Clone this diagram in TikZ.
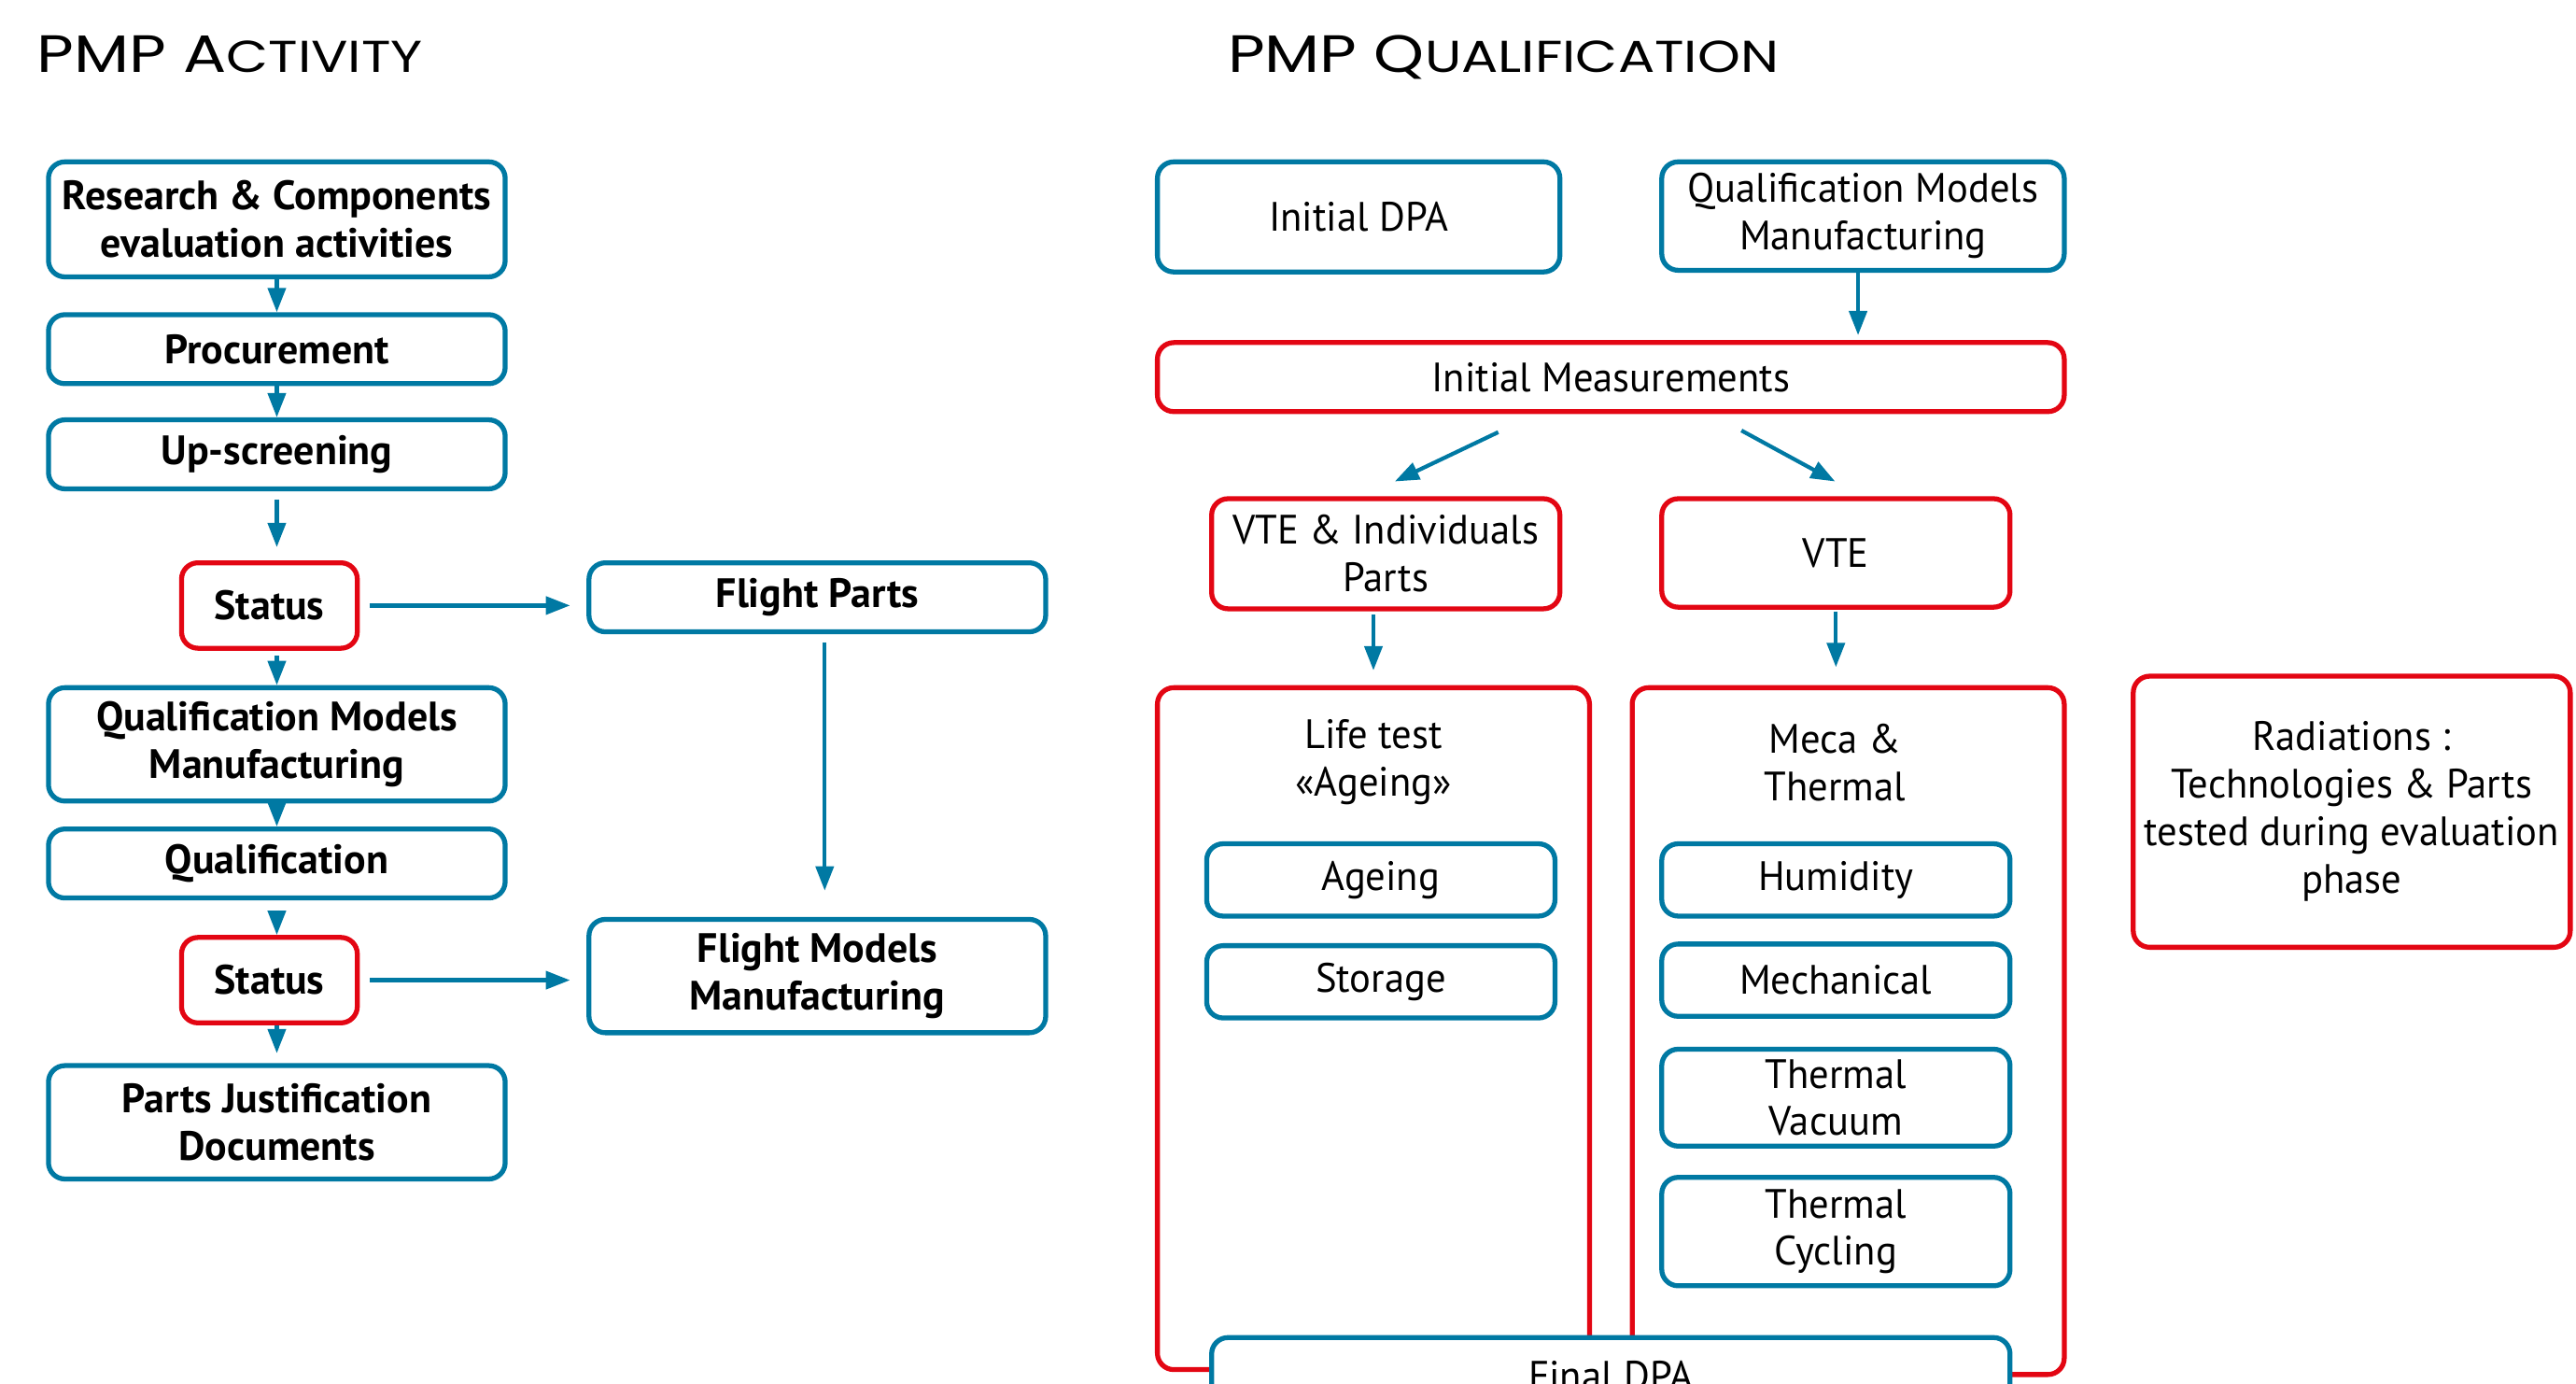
\documentclass[tikz,border=0pt]{standalone}
\usepackage{fontspec}
\setmainfont{PT Sans}
\newfontfamily\boxfont[FakeStretch=0.97]{PT Sans}
\newfontfamily\actfont{PT Sans}
\newfontfamily\headfont[FakeStretch=1.22]{Poppins}
\usetikzlibrary{arrows.meta}
\definecolor{pmpblue}{RGB}{0,121,163}
\definecolor{pmpred}{RGB}{227,6,19}
\newcommand{\px}{0.017596cm}
\newcommand{\pmpsc}[1]{{\fontsize{13.6}{15}\selectfont #1}}
\tikzset{
    sz/.style n args={2}{minimum width=#1*\px, minimum height=#2*\px},
    plain/.style={draw=pmpblue, line width=1.5pt, rounded corners=5pt, fill=white, align=center, inner sep=0pt, font=\boxfont\fontsize{12.5}{14.5}\selectfont},
    plainred/.style={plain, draw=pmpred},
    act/.style={plain, font=\actfont\bfseries\fontsize{12.5}{14.5}\selectfont},
    actred/.style={act, draw=pmpred},
    boxtext/.style={align=center, inner sep=0pt, font=\boxfont\fontsize{12.5}{14.5}\selectfont},
    flow/.style={-{Triangle[length=0.26cm,width=0.19cm]}, draw=pmpblue, line width=1.2pt},
    heading/.style={anchor=base west, inner sep=0pt, font=\headfont\fontsize{16}{18}\selectfont}
}

\begin{document}
\begin{tikzpicture}[x=0.017596cm, y=-0.017596cm]
    \useasboundingbox (0,0) rectangle (1568,842);
    \clip (0,0) rectangle (1568,842);

    % PMP activity
    \node[heading] (acttitle) at (22,44) {PMP A\pmpsc{CTIVITY}};
    \node[act, sz={278}{70}] (research) at (168.5,133.5) {Research \& Components\\evaluation activities};
    \node[act, sz={278}{42}] (procure) at (168.5,212.5) {Procurement};
    \node[act, sz={278}{42}] (upscreen) at (168.5,276.5) {Up-screening};
    \node[actred, sz={107}{52}] (status1) at (164,368.5) {Status};
    \node[act, sz={278}{69}] (qmm) at (168.5,453) {Qualification Models\\Manufacturing};
    \node[act, sz={278}{42}] (qualif) at (168.5,525.5) {Qualification};
    \node[actred, sz={107}{52}] (status2) at (164,596.5) {Status};
    \node[act, sz={278}{69}] (pjd) at (168.5,683) {Parts Justification\\Documents};
    \node[act, sz={278}{42}] (fparts) at (497.5,363.5) {Flight Parts};
    \node[act, sz={278}{69}] (fmm) at (497.5,594) {Flight Models\\Manufacturing};

    \draw[flow] (research) -- (procure);
    \draw[flow] (procure) -- (upscreen);
    \draw[flow, shorten <=5*\px, shorten >=8*\px] (upscreen.south) -- (upscreen.south |- status1.north);
    \draw[flow, shorten <=3*\px] (qmm.north |- status1.south) -- (qmm.north);
    \draw[flow] (qmm) -- (qualif);
    \draw[flow, shorten <=6*\px] (qualif.south) -- (qualif.south |- status2.north);
    \draw[flow, shorten >=6*\px] (pjd.north |- status2.south) -- (pjd.north);
    \draw[flow, shorten <=6*\px, shorten >=10*\px] (status1.east) -- (status1.east -| fparts.west);
    \draw[flow, shorten <=6*\px, shorten >=10*\px] (status2.east) -- (status2.east -| fmm.west);
    \draw[flow, shorten <=5*\px, shorten >=16*\px] ([xshift=4.5*\px]fparts.south) -- ([xshift=4.5*\px]fmm.north);

    % PMP qualification
    \node[heading] (qualtitle) at (747,44) {PMP Q\pmpsc{UALIFICATION}};
    \node[plain, sz={245}{67}] (idpa) at (827,132) {Initial DPA};
    \node[plain, sz={245}{66}] (qmm2) at (1134,131.5) {Qualification Models\\Manufacturing};
    \node[plainred, sz={552}{42}] (imeas) at (980.5,229.5) {Initial Measurements};
    \node[plainred, sz={212}{67}] (vteind) at (843.5,337) {VTE \& Individuals\\Parts};
    \node[plainred, sz={212}{66}] (vte) at (1117.5,336.5) {VTE};

    \node[plainred, sz={263}{415}] (lifebox) at (836,626) {};
    \node[plainred, sz={263}{418}] (mecabox) at (1125,627.5) {};
    \node[boxtext] (lifetitle) at (836,464) {Life test\\«Ageing»};
    \node[boxtext] (mecatitle) at (1117,464) {Meca \&\\Thermal};
    \node[plain, sz={212}{44}] (ageing) at (840.5,535.5) {Ageing};
    \node[plain, sz={212}{44}] (storage) at (840.5,597.5) {Storage};
    \node[plain, sz={212}{44}] (humid) at (1117.5,535.5) {Humidity};
    \node[plain, sz={212}{44}] (mecha) at (1117.5,596.5) {Mechanical};
    \node[plain, sz={212}{59}] (tvac) at (1117.5,668) {Thermal\\Vacuum};
    \node[plain, sz={212}{66}] (tcyc) at (1117.5,749.5) {Thermal\\Cycling};
    \node[plain, sz={486}{46}] (fdpa) at (980.5,837) {Final DPA};
    \node[plainred, sz={266}{165}] (radiat) at (1431.5,494) {Radiations :\\Technologies \& Parts\\tested during evaluation\\phase};

    \coordinate (splitL) at (912,263);
    \coordinate (splitR) at (1060,262);
    \coordinate (vteindin) at (849,293);
    \coordinate (vtein) at (1117,293);
    \draw[flow, shorten >=3*\px] ([xshift=-3*\px]qmm2.south) -- ([xshift=-3*\px]qmm2.south |- imeas.north);
    \draw[flow] (splitL) -- (vteindin);
    \draw[flow] (splitR) -- (vtein);
    \draw[flow, shorten <=2*\px, shorten >=9*\px] (lifebox.north |- vteind.south) -- (lifebox.north);
    \draw[flow, shorten <=1*\px, shorten >=11*\px] (vte.south) -- (vte.south |- mecabox.north);
\end{tikzpicture}
\end{document}
